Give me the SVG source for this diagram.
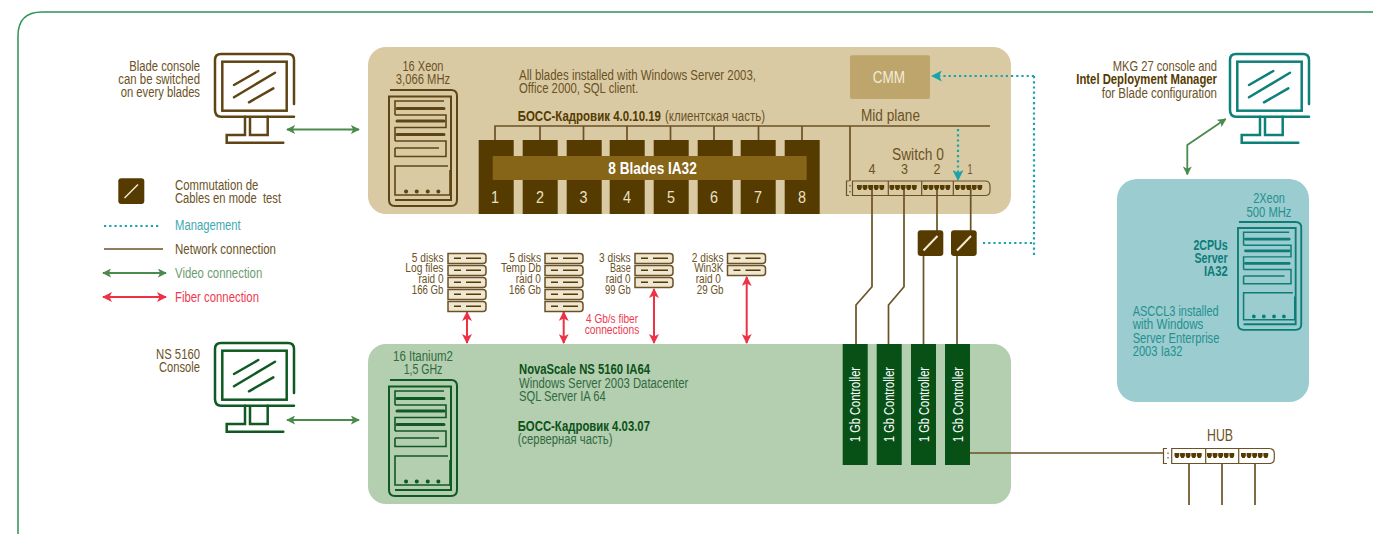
<svg xmlns="http://www.w3.org/2000/svg" width="1373" height="534" viewBox="0 0 1373 534">
<style>
text{font-family:"Liberation Sans",Arial,sans-serif;font-size:14px;fill:#6b5225}
.b{font-weight:bold}.e{text-anchor:end}.m{text-anchor:middle}
.dk{fill:#553b00}.gn{fill:#2f6b3e}.dg{fill:#0b5318}.tl{fill:#24918f}.dt{fill:#0d7d78}
.s{font-size:12.5px}
.net{fill:none;stroke:#6b5225;stroke-width:1.7}
.mg{fill:none;stroke:#1aa3a8;stroke-width:2.2;stroke-dasharray:2.2 3}
.vid{fill:none;stroke:#4a8a4b;stroke-width:1.8;marker-start:url(#av);marker-end:url(#av)}
.fib{fill:none;stroke:#ee3245;stroke-width:2;marker-start:url(#af);marker-end:url(#af)}
.sw{fill:#553b00}.sl{stroke:#f3ecd8;stroke-width:2;fill:none}
.ctl{fill:#075116}.cl{fill:#fff;font-size:14.5px}
.bl{fill:#553b00}.n{fill:#e9e0c8;font-size:17px;text-anchor:middle}
</style>
<defs>
<marker id="av" viewBox="0 0 10 10" refX="9" refY="5" markerWidth="9" markerHeight="9" markerUnits="userSpaceOnUse" orient="auto-start-reverse"><path d="M0 0L10 5L0 10L2.5 5Z" fill="#4a8a4b"/></marker>
<marker id="af" viewBox="0 0 10 10" refX="9" refY="5" markerWidth="10" markerHeight="10" markerUnits="userSpaceOnUse" orient="auto-start-reverse"><path d="M0 0L10 5L0 10L2.5 5Z" fill="#ee3245"/></marker>
<marker id="am" viewBox="0 0 10 10" refX="9" refY="5" markerWidth="11" markerHeight="11" markerUnits="userSpaceOnUse" orient="auto"><path d="M0 0L10 5L0 10L2.5 5Z" fill="#1aa3a8"/></marker>
<g id="server" fill="none" stroke="currentColor" stroke-width="1.6">
<path stroke-width="2" d="M1 0H62Q68 0 68 6V110Q68 116 62 116H6Q0 116 0 110V6.5H62V110H6"/>
<path d="M55 11H6V25M6 25H57V37.5H6V51M6 51H57V66.5H6V58M6 58H50M59 76H6V105H61V80"/>
<path d="M8 18.5H55M8 31H55M8 44.5H55" stroke-width="3" stroke-linecap="round"/>
<path d="M17 101.5h.1M27.7 101.5h.1M38.7 101.5h.1M49.3 101.5h.1" stroke-width="4" stroke-linecap="round"/>
</g>
<g id="monitor" fill="none" stroke="currentColor" stroke-width="2.5" stroke-linecap="round">
<path d="M79 62.7H6Q0 62.7 0 56V6Q0 0 6 0H73Q79 0 79 6V50"/>
<rect x="7.3" y="7.7" width="64.4" height="49"/>
<path d="M19 31L43.3 17M19 43.3L60 18.7M34 48.3L58.3 34.3"/>
<path d="M30 62.7V81H11.7V88.7H68.3M35 64V81H52.7V62.7"/>
</g>
<g id="disk">
<path d="M0 0H35Q38 0 38 3V7Q38 10 35 10H0Z" fill="#efe7d2" stroke="#6b5225" stroke-width="1.5"/>
<path d="M6 4.8H13M18 4.8H33" stroke="#553b00" stroke-width="1.6"/>
</g>
<path id="p5" d="M0 0h4.8v3l-1.2 2h-2.4l-1.2-2z" fill="#553b00"/>
<g id="ports"><use href="#p5" x="0"/><use href="#p5" x="5.6"/><use href="#p5" x="11.2"/><use href="#p5" x="16.8"/><use href="#p5" x="22.4"/></g>
</defs>

<rect width="1373" height="534" fill="#fff"/>
<path d="M18 534V36Q18 12 42 12H1373" fill="none" stroke="#2e9258" stroke-width="1.5"/>

<g id="panel-blade"><rect x="368" y="47" width="643" height="167" rx="18" fill="#d9caa4"/></g>
<g id="panel-ns"><rect x="368" y="344" width="643" height="160" rx="18" fill="#b4ceb0"/></g>
<g id="panel-mkg"><rect x="1117" y="179" width="192" height="223" rx="20" fill="#9accd0"/></g>

<g id="connectors">
<path class="net" d="M495 140V126H990M540 126V140M583.5 126V140M627 126V140M670.5 126V140M714 126V140M758.5 126V140M802 126V140M850 126V181"/>
<path class="net" d="M872 188V286.7L856 305V344M904 188V286.7L888.5 305V344M937 188V231M923.5 256V344M970.7 188V231M957 256V344"/>
<path class="net" d="M970 453H1164M1189 460V505M1222 460V505M1255 460V505"/>
<path class="mg" d="M1034 76H932" marker-end="url(#am)"/>
<path class="mg" d="M1034 76V255M983 243H1034"/>
<path class="mg" d="M958 129V180" marker-end="url(#am)"/>
<path class="vid" d="M287 129.5H359"/>
<path class="vid" d="M287 420H359"/>
<path class="vid" d="M1225.7 119L1187.3 145V174.5"/>
<path class="fib" d="M467 312V343"/>
<path class="fib" d="M563.7 312V343"/>
<path class="fib" d="M654 289V343"/>
<path class="fib" d="M746.7 277V343"/>
</g>

<g id="console-blade"><use href="#monitor" x="215" y="54" color="#5f4514"/>
<text class="e" x="200" y="71" textLength="70.7" lengthAdjust="spacingAndGlyphs">Blade console</text><text class="e" x="200" y="84" textLength="81.7" lengthAdjust="spacingAndGlyphs">can be switched</text><text class="e" x="200" y="97" textLength="79.3" lengthAdjust="spacingAndGlyphs">on every blades</text></g>
<g id="console-ns"><use href="#monitor" x="215" y="343" color="#0f5a22"/>
<text class="e" x="200" y="359" textLength="44" lengthAdjust="spacingAndGlyphs">NS 5160</text><text class="e" x="200" y="372" textLength="41" lengthAdjust="spacingAndGlyphs">Console</text></g>
<g id="console-mkg"><use href="#monitor" x="1230" y="54" color="#0d8078"/>
<text class="e" x="1217" y="71" textLength="104.3" lengthAdjust="spacingAndGlyphs">MKG 27 console and</text><text class="e b dk" x="1217" y="84" textLength="140.7" lengthAdjust="spacingAndGlyphs">Intel Deployment Manager</text><text class="e" x="1217" y="98" textLength="115.3" lengthAdjust="spacingAndGlyphs">for Blade configuration</text></g>

<g id="legend">
<rect class="sw" x="118.3" y="178.3" width="26" height="25.7" rx="3"/><path class="sl" style="stroke-width:1.4" d="M124.5 198L138 184.5"/>
<text x="175" y="190" textLength="83.3" lengthAdjust="spacingAndGlyphs">Commutation de</text><text x="175" y="203" textLength="106" lengthAdjust="spacingAndGlyphs" xml:space="preserve">Cables en mode  test</text>
<path class="mg" style="stroke-width:1.8" d="M104 226H160"/><text style="fill:#3fa9af" x="175" y="230" textLength="65.7" lengthAdjust="spacingAndGlyphs">Management</text>
<path class="net" d="M104 249H163"/><text x="175" y="254" textLength="101" lengthAdjust="spacingAndGlyphs">Network connection</text>
<path class="vid" d="M103 273H166"/><text style="fill:#6e9c72" x="175" y="278" textLength="87.3" lengthAdjust="spacingAndGlyphs">Video connection</text>
<path class="fib" d="M103 297H166"/><text style="fill:#ee3a4f" x="175" y="302" textLength="84" lengthAdjust="spacingAndGlyphs">Fiber connection</text>
</g>

<g id="server-xeon"><use href="#server" x="389" y="90" color="#5f4514"/>
<text class="m" x="423" y="71" textLength="41" lengthAdjust="spacingAndGlyphs">16 Xeon</text><text class="m" x="423" y="84" textLength="54.3" lengthAdjust="spacingAndGlyphs">3,066 MHz</text></g>
<g id="blade-text">
<text x="519" y="80" textLength="237" lengthAdjust="spacingAndGlyphs">All blades installed with Windows Server 2003,</text>
<text x="519" y="93" textLength="119.3" lengthAdjust="spacingAndGlyphs">Office 2000, SQL client.</text>
<text class="b dk" x="517.7" y="121" textLength="143.3" lengthAdjust="spacingAndGlyphs">БОСС-Кадровик 4.0.10.19</text>
<text x="665" y="121" textLength="100" lengthAdjust="spacingAndGlyphs">(клиентская часть)</text>
</g>
<g id="blades">
<rect class="bl" x="478.7" y="140" width="35" height="74"/><rect class="bl" x="522.7" y="140" width="35" height="74"/><rect class="bl" x="566.7" y="140" width="35" height="74"/><rect class="bl" x="609.7" y="140" width="35" height="74"/><rect class="bl" x="653.7" y="140" width="35" height="74"/><rect class="bl" x="697.7" y="140" width="35" height="74"/><rect class="bl" x="740.7" y="140" width="35" height="74"/><rect class="bl" x="784.7" y="140" width="35" height="74"/>
<rect x="492.7" y="156" width="314" height="24" fill="#866519"/>
<text class="b m" style="fill:#fff;font-size:16px" x="652.5" y="174" textLength="88.4" lengthAdjust="spacingAndGlyphs">8 Blades IA32</text>
<text class="n" x="495" y="203" textLength="8" lengthAdjust="spacingAndGlyphs">1</text><text class="n" x="540" y="203" textLength="8" lengthAdjust="spacingAndGlyphs">2</text><text class="n" x="583.5" y="203" textLength="8" lengthAdjust="spacingAndGlyphs">3</text><text class="n" x="627" y="203" textLength="8" lengthAdjust="spacingAndGlyphs">4</text><text class="n" x="671" y="203" textLength="8" lengthAdjust="spacingAndGlyphs">5</text><text class="n" x="714" y="203" textLength="8" lengthAdjust="spacingAndGlyphs">6</text><text class="n" x="758" y="203" textLength="8" lengthAdjust="spacingAndGlyphs">7</text><text class="n" x="802" y="203" textLength="8" lengthAdjust="spacingAndGlyphs">8</text>
</g>
<g id="cmm"><rect x="850" y="55.3" width="80" height="43.7" rx="2" fill="#bda56b"/><text class="m" style="fill:#f3ecd8;font-size:17px" x="889" y="83" textLength="32.3" lengthAdjust="spacingAndGlyphs">CMM</text></g>
<text id="midplane" x="861" y="121" style="font-size:16px" textLength="59" lengthAdjust="spacingAndGlyphs">Mid plane</text>
<g id="switch0">
<text class="m" style="font-size:16px" x="918" y="160" textLength="52" lengthAdjust="spacingAndGlyphs">Switch 0</text>
<text class="m" x="872" y="174" textLength="7" lengthAdjust="spacingAndGlyphs">4</text><text class="m" x="904.5" y="174" textLength="7" lengthAdjust="spacingAndGlyphs">3</text><text class="m" x="937" y="174" textLength="7" lengthAdjust="spacingAndGlyphs">2</text><text class="m" x="970" y="174" textLength="5" lengthAdjust="spacingAndGlyphs">1</text>
<path d="M849 181H846.5V195.5H849M850 185v1.5M850 191v1.5" fill="none" stroke="#6b5225" stroke-width="1.2"/>
<path d="M852.5 181H985Q990 181 990 186V191Q990 195.5 985 195.5H852.5ZM888.3 181V195.5M921.7 181V195.5M953.3 181V195.5" fill="none" stroke="#6b5225" stroke-width="1.2"/>
<use href="#ports" x="857" y="185"/><use href="#ports" x="889.5" y="185"/><use href="#ports" x="923" y="185"/><use href="#ports" x="955" y="185"/>
</g>
<g id="switch-a"><rect class="sw" x="917.7" y="230.3" width="25.6" height="25.7" rx="3"/><path class="sl" d="M923.5 250.5L937.5 236"/></g>
<g id="switch-b"><rect class="sw" x="951" y="230.3" width="25.7" height="25.7" rx="3"/><path class="sl" d="M957 250.5L971 236"/></g>

<g id="disks">
<use href="#disk" x="448" y="253.5"/><use href="#disk" x="448" y="265.5"/><use href="#disk" x="448" y="277.5"/><use href="#disk" x="448" y="289.5"/><use href="#disk" x="448" y="301.5"/>
<use href="#disk" x="545" y="253.5"/><use href="#disk" x="545" y="265.5"/><use href="#disk" x="545" y="277.5"/><use href="#disk" x="545" y="289.5"/><use href="#disk" x="545" y="301.5"/>
<use href="#disk" x="635" y="253.5"/><use href="#disk" x="635" y="265.5"/><use href="#disk" x="635" y="277.5"/>
<use href="#disk" x="727.5" y="253.5"/><use href="#disk" x="727.5" y="265.5"/>
<text class="e s" x="443.5" y="261.5" textLength="31.7" lengthAdjust="spacingAndGlyphs">5 disks</text><text class="e s" x="443.5" y="272" textLength="38.3" lengthAdjust="spacingAndGlyphs">Log files</text><text class="e s" x="443.5" y="283" textLength="25" lengthAdjust="spacingAndGlyphs">raid 0</text><text class="e s" x="443.5" y="294" textLength="31.7" lengthAdjust="spacingAndGlyphs">166 Gb</text>
<text class="e s" x="541" y="261.5" textLength="31.7" lengthAdjust="spacingAndGlyphs">5 disks</text><text class="e s" x="541" y="272" textLength="40" lengthAdjust="spacingAndGlyphs">Temp Db</text><text class="e s" x="541" y="283" textLength="25.3" lengthAdjust="spacingAndGlyphs">raid 0</text><text class="e s" x="541" y="294" textLength="32" lengthAdjust="spacingAndGlyphs">166 Gb</text>
<text class="e s" x="630.7" y="261.5" textLength="31.7" lengthAdjust="spacingAndGlyphs">3 disks</text><text class="e s" x="630.7" y="272" textLength="20.7" lengthAdjust="spacingAndGlyphs">Base</text><text class="e s" x="630.7" y="283" textLength="25" lengthAdjust="spacingAndGlyphs">raid 0</text><text class="e s" x="630.7" y="294" textLength="25.7" lengthAdjust="spacingAndGlyphs">99 Gb</text>
<text class="e s" x="723.5" y="261.5" textLength="31.7" lengthAdjust="spacingAndGlyphs">2 disks</text><text class="e s" x="723.5" y="272" textLength="29.3" lengthAdjust="spacingAndGlyphs">Win3K</text><text class="e s" x="721" y="283" textLength="25.3" lengthAdjust="spacingAndGlyphs">raid 0</text><text class="e s" x="723.5" y="294" textLength="26.7" lengthAdjust="spacingAndGlyphs">29 Gb</text>
<text class="m s" style="fill:#ee3a4f" x="612" y="323" textLength="52" lengthAdjust="spacingAndGlyphs">4 Gb/s fiber</text><text class="m s" style="fill:#ee3a4f" x="612" y="334" textLength="54.7" lengthAdjust="spacingAndGlyphs">connections</text>
</g>

<g id="server-itanium"><use href="#server" x="389" y="380" color="#0f5a22"/>
<text class="m gn" x="423" y="361" textLength="60" lengthAdjust="spacingAndGlyphs">16 Itanium2</text><text class="m gn" x="423" y="374" textLength="38.7" lengthAdjust="spacingAndGlyphs">1,5 GHz</text></g>
<g id="ns-text">
<text class="b dg" x="519" y="374" textLength="131" lengthAdjust="spacingAndGlyphs">NovaScale NS 5160 IA64</text>
<text class="gn" x="519" y="388" textLength="169.3" lengthAdjust="spacingAndGlyphs">Windows Server 2003 Datacenter</text>
<text class="gn" x="519" y="401" textLength="86.7" lengthAdjust="spacingAndGlyphs">SQL Server IA 64</text>
<text class="b dg" x="517.7" y="431" textLength="132.3" lengthAdjust="spacingAndGlyphs">БОСС-Кадровик 4.03.07</text>
<text class="gn" x="517.7" y="444" textLength="94.7" lengthAdjust="spacingAndGlyphs">(серверная часть)</text>
</g>
<g id="controller-1"><rect class="ctl" x="842.7" y="344" width="25" height="121"/><text class="cl" transform="translate(860 442) rotate(-90)" textLength="75" lengthAdjust="spacingAndGlyphs">1 Gb Controller</text></g>
<g id="controller-2"><rect class="ctl" x="876.7" y="344" width="25" height="121"/><text class="cl" transform="translate(894 442) rotate(-90)" textLength="75" lengthAdjust="spacingAndGlyphs">1 Gb Controller</text></g>
<g id="controller-3"><rect class="ctl" x="911" y="344" width="25" height="121"/><text class="cl" transform="translate(928.5 442) rotate(-90)" textLength="75" lengthAdjust="spacingAndGlyphs">1 Gb Controller</text></g>
<g id="controller-4"><rect class="ctl" x="945" y="344" width="25" height="121"/><text class="cl" transform="translate(962.5 442) rotate(-90)" textLength="75" lengthAdjust="spacingAndGlyphs">1 Gb Controller</text></g>

<g id="hub">
<text class="m" style="font-size:16px" x="1220" y="441" textLength="26" lengthAdjust="spacingAndGlyphs">HUB</text>
<path d="M1167 448.5H1163.5V463.5H1167M1168 452.5v1.5M1168 457v1.5" fill="none" stroke="#6b5225" stroke-width="1.2"/>
<path d="M1171.7 448.5H1269Q1274.3 448.5 1274.3 453.5V458.5Q1274.3 463.5 1269 463.5H1171.7ZM1205.7 448.5V463.5M1238.7 448.5V463.5" fill="#fff" stroke="#6b5225" stroke-width="1.2"/>
<use href="#ports" x="1174.5" y="453"/><use href="#ports" x="1207" y="453"/><use href="#ports" x="1241" y="453"/>
</g>

<g id="server-mkg"><use href="#server" transform="translate(1238 222) scale(.93)" color="#0d7d78"/>
<text class="m tl" x="1269" y="203" textLength="31.7" lengthAdjust="spacingAndGlyphs">2Xeon</text><text class="m tl" x="1269" y="217" textLength="45" lengthAdjust="spacingAndGlyphs">500 MHz</text>
<text class="b e dt" x="1227.7" y="250" textLength="34.3" lengthAdjust="spacingAndGlyphs">2CPUs</text><text class="b e dt" x="1227.7" y="263" textLength="33.3" lengthAdjust="spacingAndGlyphs">Server</text><text class="b e dt" x="1227.7" y="276" textLength="23.7" lengthAdjust="spacingAndGlyphs">IA32</text>
<text class="tl" x="1132.7" y="316" textLength="86" lengthAdjust="spacingAndGlyphs">ASCCL3 installed</text><text class="tl" x="1132.7" y="329" textLength="70.7" lengthAdjust="spacingAndGlyphs">with Windows</text><text class="tl" x="1132.7" y="343" textLength="86.7" lengthAdjust="spacingAndGlyphs">Server Enterprise</text><text class="tl" x="1132.7" y="356" textLength="49.7" lengthAdjust="spacingAndGlyphs">2003 Ia32</text>
</g>
</svg>
